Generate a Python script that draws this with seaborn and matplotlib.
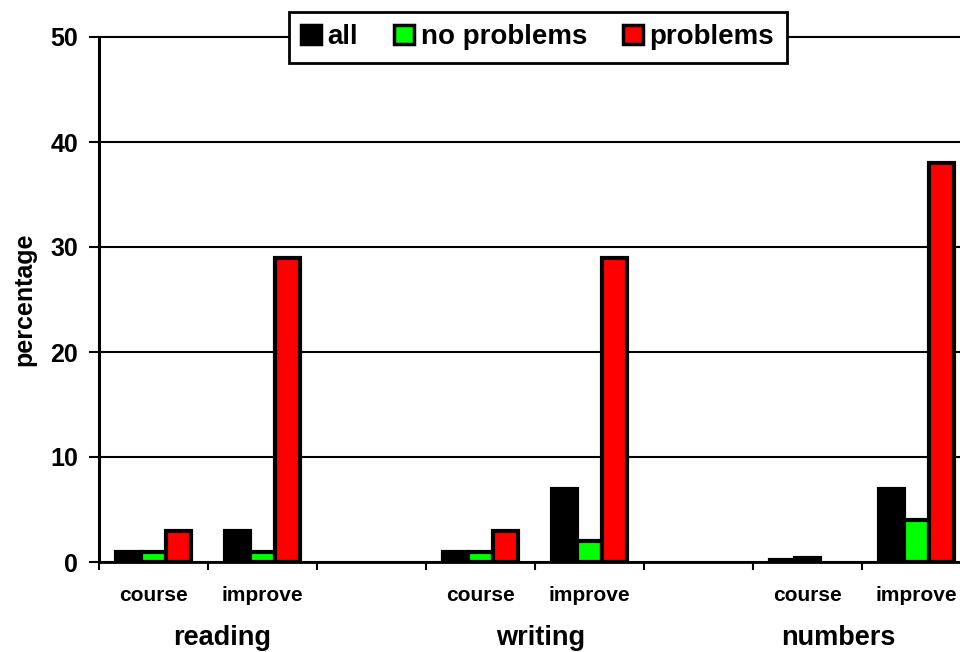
import pandas as pd
import numpy as np
import matplotlib
matplotlib.use("Agg")
import matplotlib.pyplot as plt
import seaborn as sns
from matplotlib.patches import Patch
from matplotlib.transforms import blended_transform_factory

# data (percentages)
slots = ['r_course', 'r_improve', 'gap1', 'w_course', 'w_improve', 'gap2', 'n_course', 'n_improve']
tick_labels = ['course', 'improve', '', 'course', 'improve', '', 'course', 'improve']
groups = ['reading', 'writing', 'numbers']
series = ['all', 'no problems', 'problems']
all_vals = [1, 3, None, 1, 7, None, 0.2, 7]
no_problem_vals = [1, 1, None, 1, 2, None, 0.4, 4]
problem_vals = [3, 29, None, 3, 29, None, 0, 38]
colors = ['#000000', '#00ff00', '#ff0000']

rows = []
for name, vals in zip(series, [all_vals, no_problem_vals, problem_vals]):
    for s, v in zip(slots, vals):
        # empty slots and zero values draw no bar
        if v:
            rows.append({'slot': s, 'series': name, 'value': v})
df = pd.DataFrame(rows)

sns.set_style("white")
plt.rcParams['font.family'] = ['Liberation Sans', 'DejaVu Sans']
plt.rcParams['font.weight'] = 'bold'
plt.rcParams['text.color'] = 'black'
plt.rcParams['axes.labelcolor'] = 'black'
plt.rcParams['xtick.color'] = 'black'
plt.rcParams['ytick.color'] = 'black'

fig = plt.figure(figsize=(9.6, 6.52), dpi=100)
ax = fig.add_axes([99 / 960, 90 / 652, 872 / 960, 525 / 652])

sns.barplot(data=df, x='slot', y='value', hue='series', order=slots, hue_order=series,
            palette=colors, saturation=1, width=0.69, edgecolor='black', linewidth=3,
            legend=False, ax=ax)

ax.set_xlim(-0.5, len(slots) - 0.5)
ax.set_ylim(0, 50)
ax.set_yticks([0, 10, 20, 30, 40, 50])
ax.yaxis.grid(True, color='black', linewidth=1.5)
for gl in ax.get_ygridlines():
    gl.set_clip_on(False)
ax.set_axisbelow(True)
for side in ['top', 'right']:
    ax.spines[side].set_visible(False)
ax.spines['left'].set_linewidth(2.2)
ax.spines['left'].set_color('black')
ax.spines['bottom'].set_linewidth(2)
ax.spines['bottom'].set_color('black')

ax.tick_params(axis='y', direction='out', length=7, width=1.5, color='black',
               labelsize=18, pad=8, left=True, labelcolor='black')
ax.set_xticks(np.arange(len(slots)))
ax.set_xticklabels([])
ax.tick_params(axis='x', which='major', length=0)
ax.set_xticks(np.arange(len(slots) + 1) - 0.5, minor=True)
ax.tick_params(axis='x', which='minor', direction='out', length=6, width=1.5,
               color='black', bottom=True)
ax.set_xlabel('')
ax.set_ylabel('percentage', fontsize=18, fontweight='bold', labelpad=10)

trans = blended_transform_factory(ax.transData, ax.transAxes)
for i, lab in enumerate(tick_labels):
    if lab:
        ax.text(i, -0.063, lab, transform=trans, ha='center', va='center',
                fontsize=15, fontweight='bold')
group_x = [0.63, 3.55, 6.28]
for gx, g in zip(group_x, groups):
    ax.text(gx, -0.145, g, transform=trans, ha='center', va='center',
            fontsize=19.5, fontweight='bold')

handles = [Patch(facecolor=c, edgecolor='black', linewidth=2.5) for c in colors]
leg = ax.legend(handles, series, loc='center', bbox_to_anchor=(0.503, 1.0), ncol=3,
                frameon=True, fancybox=False, shadow=False, framealpha=1,
                prop={'size': 20, 'weight': 'bold'}, handlelength=0.7, handleheight=0.7,
                handletextpad=0.25, columnspacing=1.3, borderpad=0.45, borderaxespad=0)
leg.get_frame().set_edgecolor('black')
leg.get_frame().set_linewidth(2)
leg.set_zorder(10)

fig.savefig('out.png', dpi=100)
